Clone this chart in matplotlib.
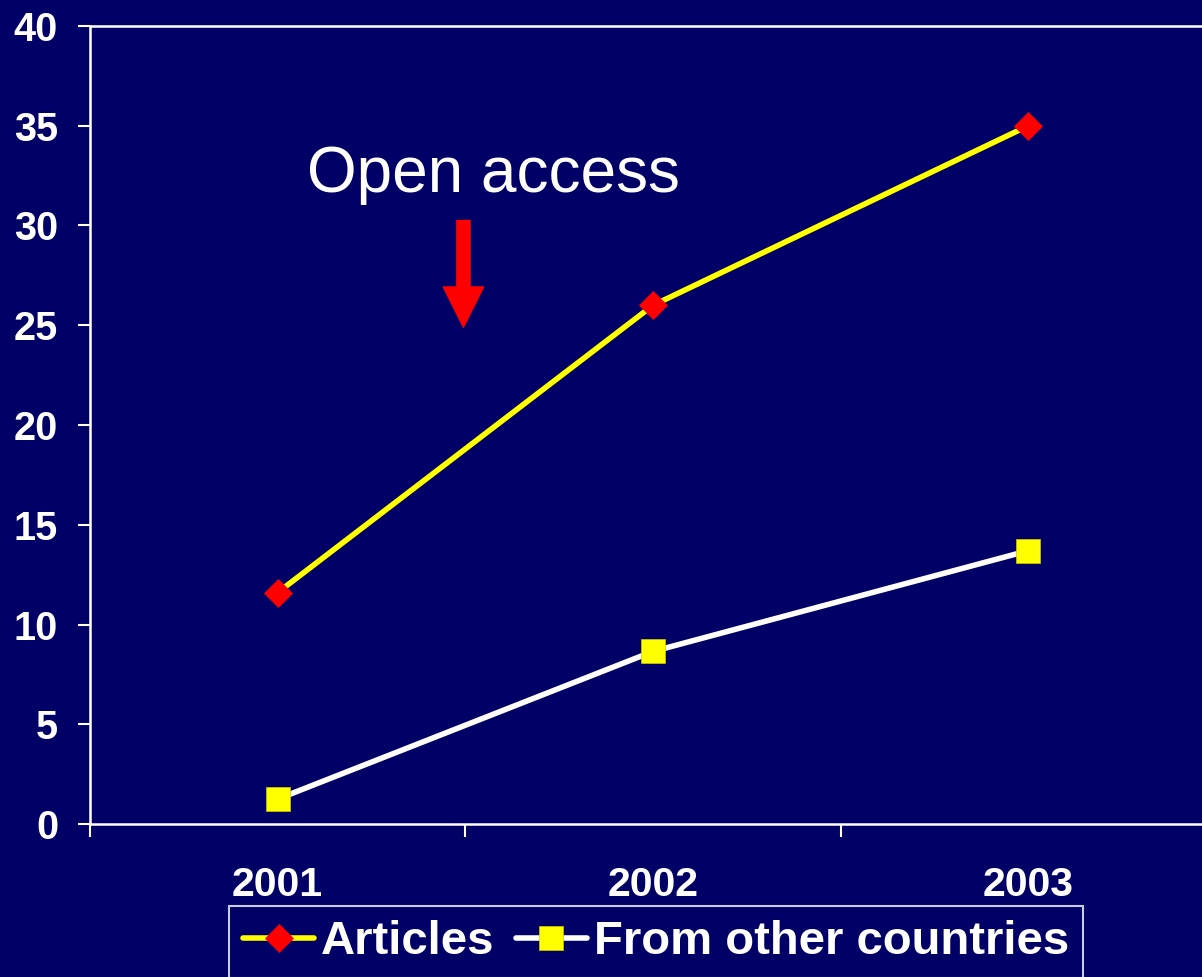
import numpy as np
import matplotlib.pyplot as plt

# Данные
years = ['2001', '2002', '2003']
articles = [11.6, 26.0, 35.0]
other_countries = [1.25, 8.65, 13.7]

navy = '#000066'

plt.rcParams['font.family'] = ['Liberation Sans', 'DejaVu Sans']

fig = plt.figure(figsize=(12.02, 9.77), dpi=100, facecolor=navy)
ax = fig.add_axes([90 / 1202, 1 - 824 / 977, 1126 / 1202, 798 / 977])
ax.set_facecolor(navy)

x = np.arange(len(years))
ax.plot(x, articles, color='#FFFF00', linewidth=4.0, marker='D', markersize=14,
        markerfacecolor='#FF0000', markeredgecolor='#FF0000', markeredgewidth=0.5,
        solid_capstyle='round', label='Articles')
ax.plot(x, other_countries, color='white', linewidth=4.0, marker='s', markersize=17,
        markerfacecolor='#FFFF00', markeredgecolor='#CCCC00', markeredgewidth=0.5,
        solid_capstyle='round', label='From other countries')

ax.set_xlim(-0.5, 2.5)
ax.set_ylim(0, 40)
ax.set_yticks(range(0, 41, 5))
ax.set_xticks([-0.5, 0.5, 1.5], minor=False)
ax.set_xticklabels([])
ax.set_xticks(x, minor=True)
ax.set_xticklabels(years, minor=True)

ax.tick_params(axis='y', colors='white', length=9, width=1.5, pad=14, labelsize=28.5)
ax.tick_params(axis='x', which='major', colors='white', length=9, width=1.5)
ax.tick_params(axis='x', which='minor', length=0, pad=30, labelsize=29.5, labelcolor='white')
for lbl in ax.get_yticklabels() + ax.get_xticklabels(minor=True):
    lbl.set_fontweight('bold')

for side in ['left', 'bottom', 'top']:
    ax.spines[side].set_color('white')
    ax.spines[side].set_linewidth(1.8)
ax.spines['right'].set_visible(False)

# Подпись и стрелка
ax.text(0.576, 31.68, 'Open access', color='white', fontsize=46,
        ha='center', va='baseline')
ax.annotate('', xy=(0.495, 24.9), xytext=(0.495, 30.25),
            arrowprops=dict(arrowstyle='simple,head_length=2.9,head_width=2.9,tail_width=0.95',
                            color='#FF0000', mutation_scale=10, shrinkA=0, shrinkB=0))

leg = fig.legend(loc='upper left', bbox_to_anchor=(229 / 1202, 1 - 906 / 977),
                 ncol=2, frameon=True, fancybox=False, facecolor=navy, edgecolor='white',
                 prop={'weight': 'bold', 'size': 34}, handlelength=1.5,
                 handletextpad=0.15, columnspacing=0.45, borderpad=0.3,
                 borderaxespad=0, markerscale=1.0)
for t in leg.get_texts():
    t.set_color('white')
leg.get_frame().set_linewidth(1.5)

fig.savefig('out.png', dpi=100, facecolor=navy)
